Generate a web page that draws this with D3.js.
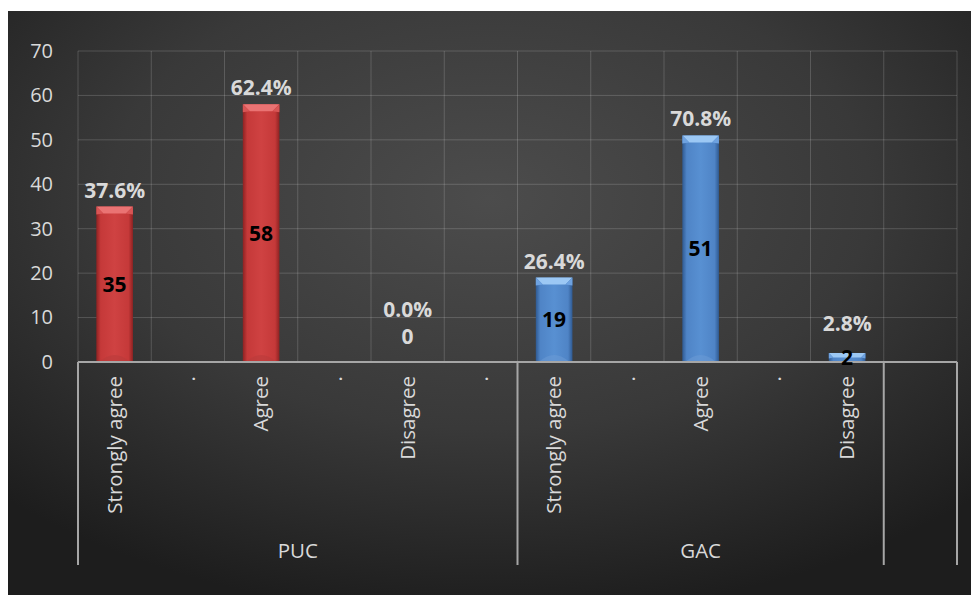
<!DOCTYPE html>
<html>
<head>
<meta charset="utf-8">
<script src="https://cdn.jsdelivr.net/npm/d3@7"></script>
<style>
  html, body { margin: 0; padding: 0; background: #ffffff; }
  svg { display: block; }
  text { font-family: "Open Sans", "Noto Sans", sans-serif; }
</style>
</head>
<body>
<svg id="chart" width="971" height="595"></svg>
<script>
// ---------- data ----------
const slotLabels = ["Strongly agree", ".", "Agree", ".", "Disagree", ".",
                    "Strongly agree", ".", "Agree", ".", "Disagree", ""];
const slotGroups = ["PUC", "PUC", "PUC", "PUC", "PUC", "PUC",
                    "GAC", "GAC", "GAC", "GAC", "GAC", ""];
const groupNames = ["PUC", "GAC", ""];
const counts = [35, null, 58, null, 0, null, 19, null, 51, null, 2, null];
const percentLabels = ["37.6%", null, "62.4%", null, "0.0%", null,
                       "26.4%", null, "70.8%", null, "2.8%", null];
const yTicks = [0, 10, 20, 30, 40, 50, 60, 70];

// ---------- layout ----------
const svg = d3.select("#chart");
const plot = { left: 78, right: 957, top: 51, bottom: 362, groupBottom: 565 };

const defs = svg.append("defs");
const bg = defs.append("radialGradient").attr("id", "bgGrad")
  .attr("cx", "50%").attr("cy", "32%").attr("r", "72%");
bg.append("stop").attr("offset", "0%").attr("stop-color", "#4c4c4c");
bg.append("stop").attr("offset", "55%").attr("stop-color", "#393939");
bg.append("stop").attr("offset", "100%").attr("stop-color", "#1d1d1d");

function barGradient(id, edge, mid, light) {
  const g = defs.append("linearGradient").attr("id", id)
    .attr("x1", "0%").attr("x2", "100%").attr("y1", "0%").attr("y2", "0%");
  g.append("stop").attr("offset", "0%").attr("stop-color", edge);
  g.append("stop").attr("offset", "12%").attr("stop-color", mid);
  g.append("stop").attr("offset", "50%").attr("stop-color", light);
  g.append("stop").attr("offset", "88%").attr("stop-color", mid);
  g.append("stop").attr("offset", "100%").attr("stop-color", edge);
}
barGradient("redBody", "#8e2222", "#c53939", "#cf4242");
barGradient("blueBody", "#2f5a92", "#4f84c6", "#5890d2");

const palette = {
  PUC: { body: "url(#redBody)", bevel: "#ea7373", bevelSide: "#d85555", bottom: "#b83a3a" },
  GAC: { body: "url(#blueBody)", bevel: "#9cc8f4", bevelSide: "#6ea2e0", bottom: "#6b9bd6" }
};

svg.append("rect").attr("x", 8).attr("y", 11).attr("width", 963).attr("height", 584)
  .attr("fill", "url(#bgGrad)");

const x = d3.scaleBand().domain(d3.range(slotLabels.length))
  .range([plot.left, plot.right]).padding(0);
const y = d3.scaleLinear().domain([0, 70]).range([plot.bottom, plot.top]);
const barW = x.bandwidth() * 0.5;

// gridlines
const grid = svg.append("g");
grid.selectAll("line.h").data(yTicks.filter(d => d > 0)).join("line")
  .attr("x1", plot.left).attr("x2", plot.right)
  .attr("y1", d => y(d)).attr("y2", d => y(d))
  .attr("stroke", "#ffffff").attr("stroke-opacity", 0.17).attr("stroke-width", 1);
grid.selectAll("line.v").data(d3.range(slotLabels.length + 1)).join("line")
  .attr("x1", i => plot.left + i * x.step()).attr("x2", i => plot.left + i * x.step())
  .attr("y1", plot.top).attr("y2", plot.bottom)
  .attr("stroke", "#ffffff").attr("stroke-opacity", 0.17).attr("stroke-width", 1);

// y axis labels
const yAxis = d3.axisLeft(y).tickValues(yTicks).tickSize(0).tickPadding(0);
const yg = svg.append("g").attr("transform", `translate(${plot.left - 25},0)`).call(yAxis);
yg.select(".domain").remove();
yg.selectAll("text").attr("fill", "#d9d9d9").attr("font-size", 20)
  .attr("font-family", "'Open Sans', sans-serif");

// bars
const barData = counts.map((v, i) => ({ i, v, g: slotGroups[i], pct: percentLabels[i] }))
  .filter(d => d.v !== null);

const bars = svg.append("g");
barData.forEach(d => {
  const c = palette[d.g];
  const x0 = x(d.i) + (x.bandwidth() - barW) / 2;
  const top = y(d.v), h = y(0) - y(d.v);
  if (h <= 0) return;
  const b = Math.min(7, h / 2);
  bars.append("rect").attr("x", x0).attr("y", top).attr("width", barW).attr("height", h)
    .attr("fill", c.body);
  bars.append("polygon")
    .attr("points", `${x0},${top} ${x0 + barW},${top} ${x0 + barW - b},${top + b} ${x0 + b},${top + b}`)
    .attr("fill", c.bevel);
  bars.append("polygon")
    .attr("points", `${x0},${top} ${x0 + b},${top + b} ${x0},${top + b + 1}`)
    .attr("fill", c.bevelSide);
  bars.append("polygon")
    .attr("points", `${x0 + barW},${top} ${x0 + barW - b},${top + b} ${x0 + barW},${top + b + 1}`)
    .attr("fill", c.bevelSide);
  if (h > 14) {
    bars.append("path")
      .attr("d", `M${x0 + 3},${y(0)} Q${x0 + barW / 2},${y(0) - 14} ${x0 + barW - 3},${y(0)} Z`)
      .attr("fill", c.bottom).attr("opacity", 0.55);
  }
});

// x axis line & group separators
svg.append("line").attr("x1", plot.left).attr("x2", plot.right)
  .attr("y1", plot.bottom).attr("y2", plot.bottom)
  .attr("stroke", "#a6a6a6").attr("stroke-width", 2);

const groupSpans = groupNames.map(g => {
  const idx = slotGroups.map((s, i) => s === g ? i : -1).filter(i => i >= 0);
  return { name: g, start: x(d3.min(idx)), end: x(d3.max(idx)) + x.bandwidth() };
});
const sepXs = Array.from(new Set(groupSpans.flatMap(s => [s.start, s.end])));
svg.append("g").selectAll("line").data(sepXs).join("line")
  .attr("x1", d => d).attr("x2", d => d)
  .attr("y1", plot.bottom).attr("y2", plot.groupBottom)
  .attr("stroke", "#a6a6a6").attr("stroke-width", 2);

// category labels (rotated)
svg.append("g").selectAll("text").data(slotLabels.map((t, i) => ({ t, i }))).join("text")
  .attr("transform", d => `translate(${x(d.i) + x.bandwidth() / 2},${plot.bottom + 14}) rotate(-90)`)
  .attr("dy", "0.35em")
  .attr("text-anchor", "end")
  .attr("fill", "#d9d9d9").attr("font-size", 20.5)
  .text(d => d.t);

// group labels
svg.append("g").selectAll("text").data(groupSpans.filter(s => s.name)).join("text")
  .attr("x", d => (d.start + d.end) / 2).attr("y", plot.groupBottom - 7)
  .attr("text-anchor", "middle").attr("fill", "#d9d9d9").attr("font-size", 20.5)
  .text(d => d.name);

// value labels
const labels = svg.append("g");
barData.forEach(d => {
  const cx = x(d.i) + x.bandwidth() / 2;
  const h = y(0) - y(d.v);
  let countBase, pctBase;
  if (h > 0) {
    countBase = y(d.v) + h / 2 + 7.5;
    labels.append("text").attr("x", cx).attr("y", countBase)
      .attr("text-anchor", "middle").attr("font-weight", "bold").attr("font-size", 21)
      .attr("fill", "#000000").text(d.v);
    pctBase = Math.min(y(d.v) - 9, y(0) - 31);
  } else {
    countBase = y(0) - 18;
    labels.append("text").attr("x", cx).attr("y", countBase)
      .attr("text-anchor", "middle").attr("font-weight", "bold").attr("font-size", 21)
      .attr("fill", "#d9d9d9").text(d.v);
    pctBase = countBase - 27;
  }
  labels.append("text").attr("x", cx).attr("y", pctBase)
    .attr("text-anchor", "middle").attr("font-weight", "bold").attr("font-size", 21)
    .attr("fill", "#d9d9d9").text(d.pct);
});
</script>
</body>
</html>
